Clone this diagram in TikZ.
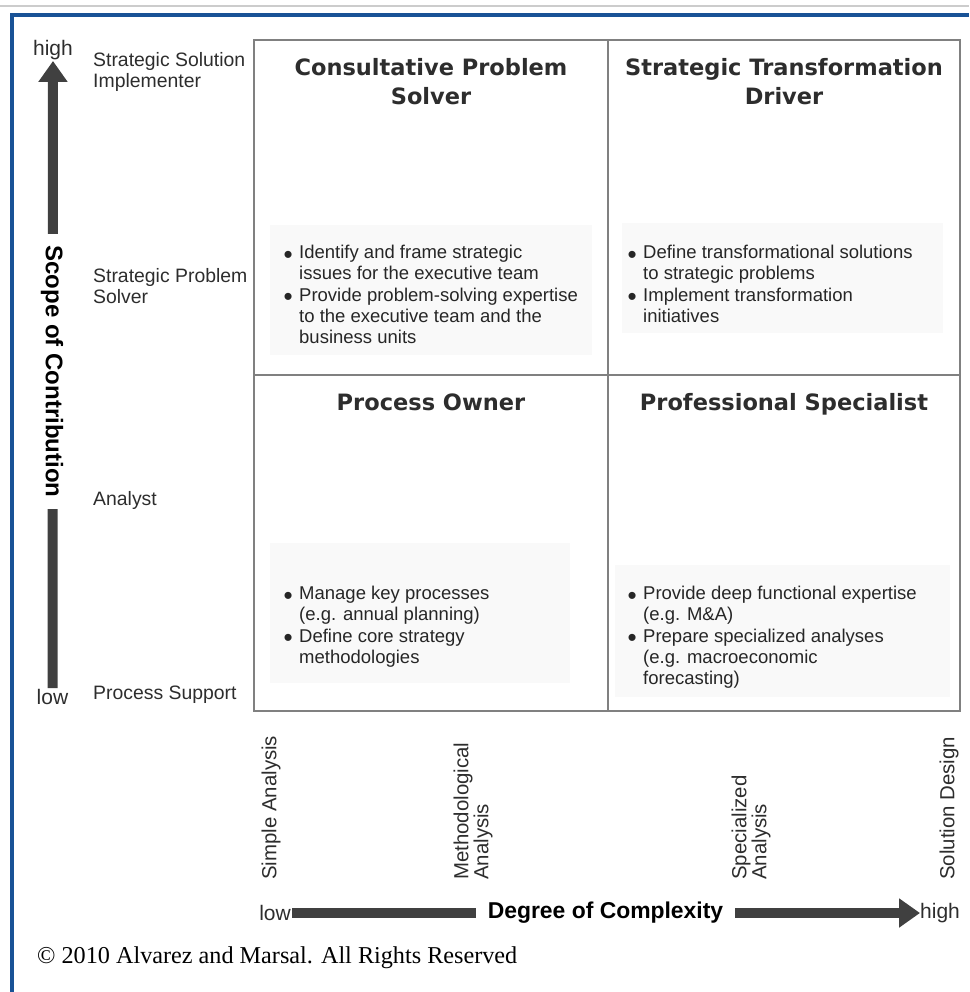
\documentclass[tikz,border=0pt]{standalone}
\usepackage{fontspec}
\setmainfont{Liberation Sans}
\newfontfamily\headfont{DejaVu Sans}
\newfontfamily\copyfont{Liberation Serif}
\usepackage{tikz}
\usetikzlibrary{arrows.meta}
\definecolor{frameblue}{RGB}{25,82,150}
\definecolor{axisgray}{RGB}{64,64,64}
\definecolor{gridgray}{RGB}{128,128,128}
\definecolor{panelgray}{RGB}{249,249,249}
\definecolor{inkgray}{RGB}{45,45,45}
\newcommand{\bulletmark}{\llap{\smash{\raisebox{-4.5pt}{\fontsize{26}{0}\selectfont\textbullet}}\hspace{6.5pt}}}

\begin{document}
\begin{tikzpicture}[x=1pt,y=-1pt,
  rowlabel/.style={anchor=west,align=left,inner sep=0pt,text=inkgray,font=\fontsize{19.4}{20.5}\selectfont},
  collabel/.style={anchor=west,rotate=90,align=left,inner sep=0pt,text=inkgray,font=\fontsize{20.4}{20}\selectfont},
  quadtitle/.style={anchor=base,align=center,inner sep=0pt,text=inkgray,font=\headfont\bfseries\fontsize{22.5}{29}\selectfont},
  bullets/.style={anchor=base west,align=left,inner sep=0pt,text=black!85,font=\fontsize{18.5}{21.25}\selectfont},
  panel/.style={fill=panelgray,draw=none},
  axis/.style={line width=10pt,draw=axisgray,-{Triangle[length=21pt,width=28pt]}},
  axislabel/.style={fill=white,inner xsep=12pt,inner ysep=2pt,text=black,font=\bfseries\fontsize{24}{24}\selectfont},
  endlabel/.style={inner sep=1pt,text=inkgray,font=\fontsize{21}{21}\selectfont}]
  \useasboundingbox (0,0) rectangle (969,992);

  %frame
  \draw[black!20,line width=2pt] (0,6) -- (969,6);
  \draw[frameblue,line width=4pt,line join=miter] (12,992) -- (12,15) -- (969,15);

  %panels behind the bullets
  \fill[panel] (270,225) rectangle (592,355);
  \fill[panel] (622,223) rectangle (943,333);
  \fill[panel] (270,543) rectangle (570,683);
  \fill[panel] (615,565) rectangle (950,697);

  %grid
  \draw[gridgray,line width=2pt] (254,40) rectangle (960,711);
  \draw[gridgray,line width=2pt] (608,40) -- (608,711);
  \draw[gridgray,line width=2pt] (254,375) -- (960,375);

  %quadrants (base = last line)
  \node[quadtitle] (cps) at (431,105) {Consultative Problem\\Solver};
  \node[quadtitle] (std) at (784,105) {Strategic Transformation\\Driver};
  \node[quadtitle] (po) at (431,410) {Process Owner};
  \node[quadtitle] (ps) at (784,410) {Professional Specialist};

  \node[bullets] (cpsitems) at (299,343.5) {\bulletmark Identify and frame strategic\\
    issues for the executive team\\
    \bulletmark Provide problem-solving expertise\\
    to the executive team and the\\
    business units};
  \node[bullets] (stditems) at (643,322.25) {\bulletmark Define transformational solutions\\
    to strategic problems\\
    \bulletmark Implement transformation\\
    initiatives};
  \node[bullets] (poitems) at (299,663.25) {\bulletmark Manage key processes\\
    (e.g. annual planning)\\
    \bulletmark Define core strategy\\
    methodologies};
  \node[bullets] (psitems) at (643,684.5) {\bulletmark Provide deep functional expertise\\
    (e.g. M\&A)\\
    \bulletmark Prepare specialized analyses\\
    (e.g. macroeconomic\\
    forecasting)};

  %scope of contribution
  \node[rowlabel] (ssi) at (93,72) {Strategic Solution\\Implementer};
  \node[rowlabel] (spsolver) at (93,286) {Strategic Problem\\Solver};
  \node[rowlabel] (analyst) at (93,500) {Analyst};
  \node[rowlabel] (support) at (93,695) {Process Support};

  \node[endlabel] (ylow) at (52.5,697) {low};
  \node[endlabel] (yhigh) at (53,50) {high};
  \draw[axis] (ylow.north) -- (yhigh.south);
  \node[axislabel,rotate=-90] (scope) at (52,371.5) {Scope of Contribution};

  %degree of complexity
  \node[collabel] (simple) at (271,880) {Simple Analysis};
  \node[collabel] (method) at (473,880) {Methodological\\Analysis};
  \node[collabel] (special) at (751,880) {Specialized\\Analysis};
  \node[collabel] (design) at (949,880) {Solution Design};

  \node[endlabel,anchor=east] (xlow) at (292,913) {low};
  \node[endlabel,anchor=west,inner sep=0pt] (xhigh) at (920,913) {high};
  \draw[axis] (xlow.east) -- (xhigh.west);
  \node[axislabel,font=\bfseries\fontsize{22.9}{24}\selectfont] (degree) at (605.5,913) {Degree of Complexity};

  \node[anchor=west,inner sep=0pt,font=\copyfont\fontsize{24.2}{24}\selectfont] (copy) at (37,958) {© 2010 Alvarez and Marsal. All Rights Reserved};

\end{tikzpicture}
\end{document}
